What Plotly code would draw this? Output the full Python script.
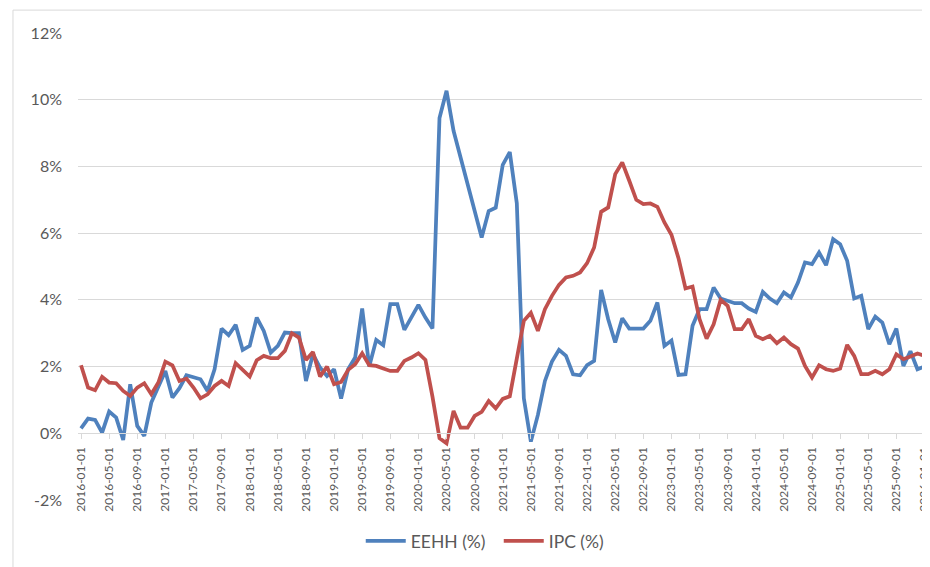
import plotly.graph_objects as go

# ---- data ----
months = [f"{2016 + k // 12}-{k % 12 + 1:02d}-01" for k in range(121)]

eehh = [0.15, 0.44, 0.40, 0.02, 0.65, 0.47, -0.20, 1.47, 0.22, -0.08, 0.92, 1.42,
        1.87, 1.07, 1.35, 1.74, 1.67, 1.62, 1.27, 1.92, 3.14, 2.94, 3.25, 2.50,
        2.62, 3.47, 3.07, 2.42, 2.62, 3.02, 3.00, 3.00, 1.57, 2.37, 1.97, 1.72,
        1.92, 1.04, 1.92, 2.27, 3.74, 2.00, 2.80, 2.64, 3.87, 3.87, 3.10, 3.47,
        3.85, 3.47, 3.14, 9.45, 10.27, 9.07, 8.28, 7.49, 6.70, 5.87, 6.66, 6.76,
        8.05, 8.43, 6.90, 1.05, -0.25, 0.55, 1.57, 2.15, 2.50, 2.32, 1.77, 1.74,
        2.04, 2.17, 4.30, 3.42, 2.72, 3.45, 3.14, 3.14, 3.14, 3.37, 3.92, 2.62,
        2.78, 1.75, 1.77, 3.22, 3.72, 3.72, 4.37, 4.04, 3.97, 3.90, 3.90, 3.74,
        3.64, 4.24, 4.04, 3.90, 4.22, 4.07, 4.52, 5.12, 5.07, 5.42, 5.04, 5.82,
        5.67, 5.17, 4.04, 4.12, 3.12, 3.50, 3.32, 2.67, 3.14, 2.02, 2.46, 1.92,
        2.00]

ipc = [2.04, 1.37, 1.29, 1.69, 1.52, 1.50, 1.27, 1.12, 1.37, 1.50, 1.17, 1.52,
       2.15, 2.04, 1.57, 1.64, 1.37, 1.05, 1.17, 1.42, 1.57, 1.42, 2.10, 1.90,
       1.70, 2.19, 2.32, 2.25, 2.25, 2.47, 3.00, 2.87, 2.20, 2.44, 1.70, 2.00,
       1.47, 1.54, 1.90, 2.07, 2.40, 2.04, 2.02, 1.94, 1.87, 1.87, 2.17, 2.27,
       2.40, 2.20, 1.10, -0.15, -0.30, 0.67, 0.17, 0.17, 0.52, 0.64, 0.97, 0.75,
       1.03, 1.11, 2.20, 3.37, 3.61, 3.07, 3.72, 4.12, 4.45, 4.67, 4.72, 4.82,
       5.10, 5.57, 6.64, 6.77, 7.77, 8.12, 7.57, 7.00, 6.87, 6.89, 6.79, 6.32,
       5.95, 5.25, 4.34, 4.40, 3.42, 2.84, 3.27, 4.00, 3.82, 3.12, 3.12, 3.42,
       2.92, 2.82, 2.92, 2.70, 2.87, 2.67, 2.54, 2.02, 1.67, 2.04, 1.92, 1.87,
       1.94, 2.65, 2.32, 1.77, 1.77, 1.87, 1.77, 1.92, 2.37, 2.22, 2.30, 2.39,
       2.32]

tick_labels = months[::4]
y_ticks = [-2, 0, 2, 4, 6, 8, 10, 12]

# ---- figure ----
FONT = "Lato, 'Open Sans', sans-serif"
GREY = "#595959"
GRID = "#d9d9d9"

fig = go.Figure()
fig.add_trace(go.Scatter(x=months, y=eehh, mode="lines", name="EEHH (%)",
                         line=dict(color="#4F81BD", width=3.75)))
fig.add_trace(go.Scatter(x=months, y=ipc, mode="lines", name="IPC (%)",
                         line=dict(color="#C0504D", width=3.75)))

# page body has an 8px default margin, so the figure is sized/offset accordingly
fig.update_layout(
    width=922, height=559,
    margin=dict(l=70, r=2, t=25, b=67),
    paper_bgcolor="white", plot_bgcolor="white",
    font=dict(family=FONT, color=GREY, size=14),
    showlegend=True,
    legend=dict(orientation="h", x=0.495, xanchor="center", y=-0.088, yanchor="middle",
                font=dict(size=17.5, color=GREY), itemwidth=40, entrywidth=83),
    xaxis=dict(
        type="category", range=[-0.43, 120.5],
        tickmode="array", tickvals=tick_labels, ticktext=tick_labels,
        tickangle=-90, tickfont=dict(size=12, color=GREY),
        showgrid=False, zeroline=False,
        showline=True, linecolor=GRID, linewidth=1,
        ticks="outside", ticklen=5, tickcolor=GRID, ticklabelstandoff=3,
        ticklabeloverflow="allow",
        anchor="free", position=2 / 14, automargin=False,
    ),
    yaxis=dict(
        range=[-2, 12], tickvals=y_ticks, ticktext=[f"{v}%" for v in y_ticks],
        showgrid=True, gridcolor=GRID, gridwidth=1, zeroline=False,
        showline=False, tickfont=dict(size=16, color=GREY),
        ticklabelstandoff=15, automargin=False,
    ),
    shapes=[dict(type="rect", xref="paper", yref="paper",
                 x0=-0.0765, x1=1.2, y0=-0.3, y1=1.049,
                 line=dict(color=GRID, width=1), fillcolor="rgba(0,0,0,0)",
                 layer="below")],
)

fig.write_html("out.html")
